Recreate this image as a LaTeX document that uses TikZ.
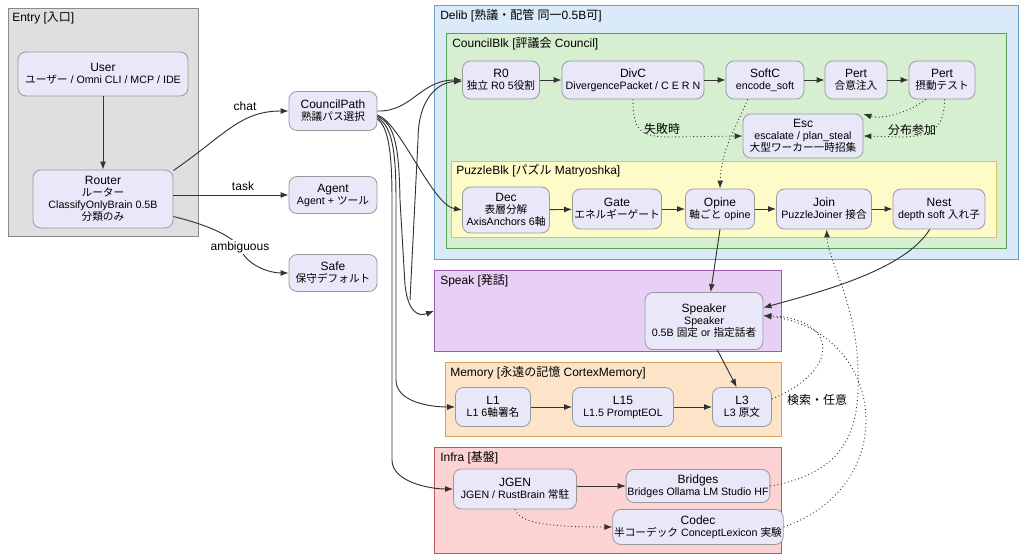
\documentclass[tikz,border=0pt]{standalone}
\usepackage{fontspec}
\setmainfont{Liberation Sans}
\newfontfamily\jpf{Noto Sans CJK JP}
\newcommand\J[1]{{\jpf #1}}
\newcommand\ti[1]{{\fontsize{9}{10}\selectfont #1}}
\usetikzlibrary{arrows.meta}
\definecolor{entf}{HTML}{DFDFDF}\definecolor{entb}{HTML}{8A8A8A}
\definecolor{delf}{HTML}{DAEAF8}\definecolor{delb}{HTML}{6A9EC4}
\definecolor{cof}{HTML}{D5EFD0}\definecolor{cob}{HTML}{5A9E5A}
\definecolor{puf}{HTML}{FDFBC8}\definecolor{pub}{HTML}{D4C85C}
\definecolor{spf}{HTML}{E8CFF5}\definecolor{spb}{HTML}{9B5BB5}
\definecolor{mef}{HTML}{FDE4C8}\definecolor{meb}{HTML}{D9A25A}
\definecolor{inf}{HTML}{FDD2D2}\definecolor{inb}{HTML}{C45555}
\definecolor{ndf}{HTML}{E8E8F8}\definecolor{ndb}{HTML}{9A9A9A}
\definecolor{edc}{HTML}{333333}
\begin{document}
\begin{tikzpicture}[x=0.75pt,y=-0.75pt,
 nd/.style 2 args={draw=ndb, fill=ndf, rounded corners=6pt, line width=0.6pt,
   minimum width=#1*0.75pt, minimum height=#2*0.75pt, align=center, inner sep=1pt,
   font=\fontsize{8}{9}\selectfont},
 cl/.style={anchor=north west, inner sep=0pt, line width=0.7pt},
 cll/.style={anchor=north west, inner sep=0pt, font=\fontsize{9}{10}\selectfont},
 ed/.style={draw=edc, line width=0.7pt, -{Latex[length=6pt,width=4.5pt]}},
 dt/.style={ed, dotted},
 el/.style={font=\fontsize{9}{10}\selectfont, inner sep=1pt}]
\useasboundingbox[fill=white] (0,0) rectangle (1024,559);
% clusters
\node[cl, draw=entb, fill=entf, minimum width=190*0.75pt, minimum height=228*0.75pt] (entry) at (8,8) {};
\node[cll] (entryl) at (12,12) {Entry [\J{入口}]};
\node[cl, draw=delb, fill=delf, minimum width=584*0.75pt, minimum height=254*0.75pt] (delib) at (434,5) {};
\node[cll] (delibl) at (440,9) {Delib [\J{熟議・配管} \J{同一}0.5B\J{可}]};
\node[cl, draw=cob, fill=cof, minimum width=560*0.75pt, minimum height=215*0.75pt] (cblk) at (446,33) {};
\node[cll] (cblkl) at (452,37) {CouncilBlk [\J{評議会} Council]};
\node[cl, draw=pub, fill=puf, minimum width=545*0.75pt, minimum height=76*0.75pt] (pblk) at (451,161) {};
\node[cll] (pblkl) at (456,164) {PuzzleBlk [\J{パズル} Matryoshka]};
\node[cl, draw=spb, fill=spf, minimum width=347*0.75pt, minimum height=81*0.75pt] (speak) at (434,270) {};
\node[cll] (speakl) at (440,274) {Speak [\J{発話}]};
\node[cl, draw=meb, fill=mef, minimum width=336*0.75pt, minimum height=74*0.75pt] (mem) at (445,362) {};
\node[cll] (meml) at (450,366) {Memory [\J{永遠の記憶} CortexMemory]};
\node[cl, draw=inb, fill=inf, minimum width=347*0.75pt, minimum height=106*0.75pt] (infra) at (434,447) {};
\node[cll] (infral) at (440,451) {Infra [\J{基盤}]};
% nodes
\node[nd={170}{44}] (User) at (103,74) {\ti{User}\\\J{ユーザー} / Omni CLI / MCP / IDE};
\node[nd={140}{58}] (Router) at (103,199) {\ti{Router}\\\J{ルーター}\\ClassifyOnlyBrain 0.5B\\\J{分類のみ}};
\node[nd={88}{39}] (CouncilPath) at (333,111) {\ti{CouncilPath}\\\J{熟議パス選択}};
\node[nd={88}{37}] (Agent) at (333,195) {\ti{Agent}\\Agent + \J{ツール}};
\node[nd={88}{37}] (Safe) at (333,273) {\ti{Safe}\\\J{保守デフォルト}};
\node[nd={77}{38}] (R0) at (501,80) {\ti{R0}\\\J{独立} R0 5\J{役割}};
\node[nd={142}{38}] (DivC) at (633,80) {\ti{DivC}\\DivergencePacket / C E R N};
\node[nd={78}{38}] (SoftC) at (765,80) {\ti{SoftC}\\encode\_soft};
\node[nd={62}{38}] (Pert1) at (856,80) {\ti{Pert}\\\J{合意注入}};
\node[nd={66}{38}] (Pert2) at (942,80) {\ti{Pert}\\\J{摂動テスト}};
\node[nd={120}{44}] (Esc) at (803,136) {\ti{Esc}\\escalate / plan\_steal\\\J{大型ワーカー一時招集}};
\node[nd={87}{46}] (Dec) at (506,210) {\ti{Dec}\\\J{表層分解}\\AxisAnchors 6\J{軸}};
\node[nd={89}{40}] (Gate) at (617,209) {\ti{Gate}\\\J{エネルギーゲート}};
\node[nd={69}{40}] (Opine) at (720,209) {\ti{Opine}\\\J{軸ごと} opine};
\node[nd={95}{40}] (Join) at (824,209) {\ti{Join}\\PuzzleJoiner \J{接合}};
\node[nd={92}{40}] (Nest) at (939,209) {\ti{Nest}\\depth soft \J{入れ子}};
\node[nd={118}{57}] (Speaker) at (704,321) {\ti{Speaker}\\Speaker\\0.5B \J{固定} or \J{指定話者}};
\node[nd={75}{39}] (L1) at (493,407) {\ti{L1}\\L1 6\J{軸署名}};
\node[nd={101}{39}] (L15) at (623,407) {\ti{L15}\\L1.5 PromptEOL};
\node[nd={59}{39}] (L3) at (742,407) {\ti{L3}\\L3 \J{原文}};
\node[nd={123}{40}] (JGEN) at (515,489) {\ti{JGEN}\\JGEN / RustBrain \J{常駐}};
\node[nd={140}{33}] (Bridges) at (698,486) {\ti{Bridges}\\Bridges Ollama LM Studio HF};
\node[nd={148}{35}] (Codec) at (698,527) {\ti{Codec}\\\J{半コーデック} ConceptLexicon \J{実験}};
% entry edges
\draw[ed] (User) -- (Router);
\draw[ed] (Router.22) .. controls (225,135) and (240,111) .. (CouncilPath.west);
\node[el] (lchat) at (245,106) {chat};
\draw[ed] (Router.east |- Agent.west) -- (Agent.west);
\node[el] (ltask) at (243,186) {task};
\draw[ed] (Router.-14) .. controls (212,226) and (236,238) .. (241,250) .. controls (248,266) and (270,273) .. (Safe.west);
\node[el, fill=white] (lamb) at (240,247) {ambiguous};
% council path edges
\draw[ed] (CouncilPath.east) .. controls (412,112) and (420,80) .. (R0.west);
\draw[ed] ([yshift=-3pt]CouncilPath.east) .. controls (400,122) and (432,205) .. (Dec.west);
\draw[ed] ([yshift=-4pt]CouncilPath.east) .. controls (396,124) and (399,150) .. (400,200) -- (405,285) .. controls (408,312) and (418,317) .. (speak.west);
\draw[ed] ([yshift=-5pt]CouncilPath.east) .. controls (392,126) and (396,150) .. (396,200) -- (396,380) .. controls (396,402) and (430,407) .. (L1.west);
\draw[ed] ([yshift=-6pt]CouncilPath.east) .. controls (388,127) and (392,150) .. (392,200) -- (392,460) .. controls (392,482) and (430,489) .. (JGEN.west);
\coordinate (rzs) at (410,300);
\draw[ed] (rzs) -- (418,140) .. controls (418,96) and (440,82) .. ([yshift=-1pt]R0.west);
% council block
\draw[ed] (R0) -- (DivC);
\draw[ed] (DivC) -- (SoftC);
\draw[ed] (SoftC) -- (Pert1);
\draw[ed] (Pert1) -- (Pert2);
\draw[dt] (DivC.south) .. controls (633,130) and (640,137) .. (670,137) -- (Esc.west);
\node[el] (lfail) at (662,129) {\J{失敗時}};
\draw[dt] ([xshift=-13pt]SoftC.south) .. controls (735,130) and (721,150) .. (Opine.north);
\draw[dt] ([xshift=-12pt]Pert2.south) .. controls (910,112) and (882,120) .. (Esc.20);
\draw[dt] ([xshift=2pt]Pert2.south) .. controls (944,126) and (935,137) .. (900,137) -- (Esc.east);
\node[el] (ldist) at (912,130) {\J{分布参加}};
% puzzle block
\draw[ed] (Dec) -- (Gate);
\draw[ed] (Gate) -- (Opine);
\draw[ed] (Opine) -- (Join);
\draw[ed] (Join) -- (Nest);
% speak
\draw[ed] (Opine.south) -- ([xshift=5pt]Speaker.north);
\draw[ed] ([xshift=-7pt]Nest.south) .. controls (905,270) and (820,292) .. ([yshift=10pt]Speaker.east);
\draw[ed] ([xshift=10pt]Speaker.south) -- ([xshift=-4pt]L3.north);
% memory
\draw[ed] (L1) -- (L15);
\draw[ed] (L15) -- (L3);
\draw[dt] ([yshift=6pt]L3.east) .. controls (845,368) and (835,318) .. ([yshift=4pt]Speaker.east);
\node[el] (lsearch) at (817,400) {\J{検索・任意}};
% infra
\draw[ed] (JGEN.east |- Bridges.west) -- (Bridges.west);
\draw[dt] (JGEN.south) .. controls (520,525) and (560,527) .. (Codec.west);
\draw[dt] (Codec.east) .. controls (905,485) and (885,330) .. ([yshift=4pt]Speaker.east);
\draw[dt] (Bridges.east) .. controls (850,472) and (860,425) .. (858,370) .. controls (856,300) and (828,262) .. ([xshift=2pt]Join.south);
\end{tikzpicture}
\end{document}
